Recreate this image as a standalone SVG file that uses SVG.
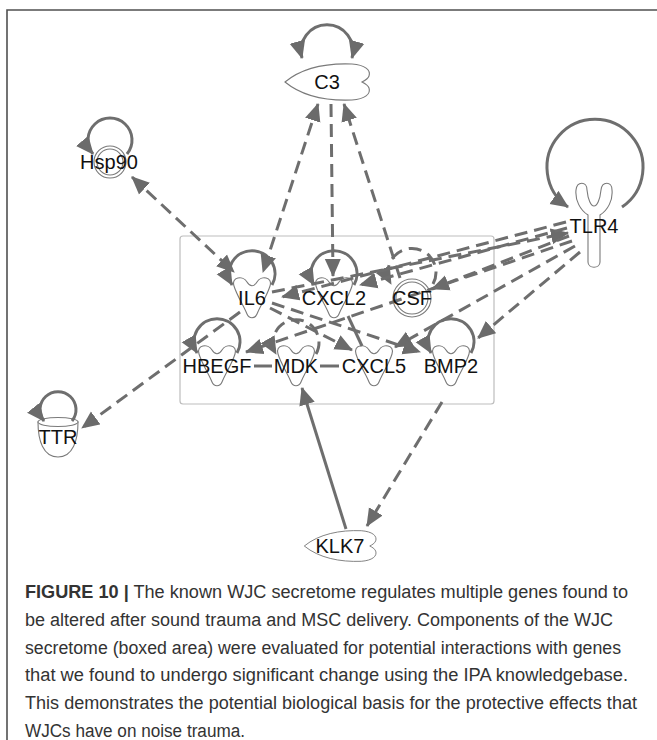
<svg xmlns="http://www.w3.org/2000/svg" width="657" height="740" viewBox="0 0 657 740">
<style>
.e{fill:none;stroke:#6e6e6e;stroke-width:3}
.d{stroke-dasharray:13 7}
.n{fill:#fff;stroke:#7a7a7a;stroke-width:1.1}
.t{font-family:"Liberation Sans",Arial,sans-serif;font-size:20px;fill:#111;text-anchor:middle}
.c{font-family:"Liberation Sans",Arial,sans-serif;font-size:18px;fill:#333}
</style>
<defs>
<marker id="ah" markerUnits="userSpaceOnUse" viewBox="0 0 19 17" markerWidth="19" markerHeight="17" refX="17" refY="8.5" orient="auto-start-reverse"><path d="M0,0.5 L18,8.5 L0,16.5 Z" fill="#6b6b6b"/></marker>
<path id="tooth" d="M-18,-12 C-21,-21 -9,-23 -5,-16 C-2,-11 2,-11 5,-16 C9,-23 21,-21 18,-12 C15,-2 8,8 5,16 C3,21 -3,21 -5,16 C-8,8 -15,-2 -18,-12 Z"/>
<path id="pep" d="M-42,0 C-25,-14 0,-19 25,-18 C38,-17 44,-12 42,-6 C41,-3 37,-1 35,0 C37,1 41,3 42,6 C44,12 38,17 25,18 C0,19 -25,14 -42,0 Z"/>
</defs>
<rect width="657" height="740" fill="#fff"/>
<path d="M7,740 L7,10 L657,10" fill="none" stroke="#505050" stroke-width="1.6"/>
<rect id="secretome-box" x="180" y="236" width="314" height="168" rx="3" fill="none" stroke="#bdbdbd" stroke-width="1.2"/>

<g id="node-C3"><use href="#pep" class="n" transform="translate(327,82)"/></g>
<g id="node-Hsp90"><circle class="n" cx="110" cy="162" r="16"/><circle class="n" cx="110" cy="162" r="13"/></g>
<g id="node-TLR4"><path class="n" d="M588,215 C580,210 575,200 576,190 C577,181 587,181 587,190 C588,200 591,206 594,206 C597,206 600,200 601,190 C602,181 612,181 612,190 C613,200 608,210 600,215 L600,262 C600,269 588,269 588,262 Z"/></g>
<g id="node-IL6"><use href="#tooth" class="n" transform="translate(252,298)"/></g>
<g id="node-CXCL2"><use href="#tooth" class="n" transform="translate(334,298)"/></g>
<g id="node-CSF"><circle class="n" cx="412" cy="298" r="19"/><circle class="n" cx="412" cy="298" r="16"/></g>
<g id="node-HBEGF"><use href="#tooth" class="n" transform="translate(217,366)"/></g>
<g id="node-MDK"><use href="#tooth" class="n" transform="translate(296,366)"/></g>
<g id="node-CXCL5"><use href="#tooth" class="n" transform="translate(374,366)"/></g>
<g id="node-BMP2"><use href="#tooth" class="n" transform="translate(451,366)"/></g>
<g id="node-TTR"><path class="n" d="M38,422 C38,440 43,457 58,457 C73,457 78,440 78,422 Z"/><ellipse class="n" cx="58" cy="422" rx="20" ry="4.5"/></g>
<g id="node-KLK7"><use href="#pep" class="n" transform="translate(340,546) scale(0.85,0.85)"/></g>

<g id="connectors">
<path class="e" d="M352,58 A26,26 0 1 0 302,58" marker-start="url(#ah)" marker-end="url(#ah)"/>
<path class="e" d="M127,154 A22,22 0 1 0 93,154" marker-end="url(#ah)"/>
<path class="e" d="M622,207 A48,48 0 1 0 568,207" marker-end="url(#ah)"/>
<path class="e" d="M72,421 A18,18 0 1 0 44,421" marker-end="url(#ah)"/>
<path class="e" d="M272,285 A23,23 0 1 0 232,285" marker-end="url(#ah)"/>
<path class="e" d="M354,285 A23,23 0 1 0 314,285" marker-end="url(#ah)"/>
<path class="e" d="M237,353 A23,23 0 1 0 197,353" marker-end="url(#ah)"/>
<path class="e" d="M471,353 A23,23 0 1 0 431,353" marker-end="url(#ah)"/>
<path class="e d" d="M316,354 A23,23 0 1 0 276,354" marker-end="url(#ah)"/>
<path class="e d" d="M433,284 A24,24 0 1 0 391,284" marker-end="url(#ah)"/>

<path class="e d" d="M318,104 L263,272" marker-start="url(#ah)" marker-end="url(#ah)"/>
<path class="e d" d="M331,104 L333,276" marker-end="url(#ah)"/>
<path class="e d" d="M400,278 L344,104" marker-end="url(#ah)"/>
<path class="e d" d="M132,177 L234,272" marker-start="url(#ah)" marker-end="url(#ah)"/>

<path class="e d" d="M272,292 L568,233" marker-end="url(#ah)"/>
<path class="e d" d="M566,222 L282,297" marker-end="url(#ah)"/>
<path class="e d" d="M567,228 L360,285" marker-end="url(#ah)"/>
<path class="e d" d="M569,236 L432,289" marker-end="url(#ah)"/>
<path class="e d" d="M572,241 L246,352" marker-end="url(#ah)"/>
<path class="e d" d="M575,246 L395,347" marker-end="url(#ah)"/>
<path class="e d" d="M580,252 L478,338" marker-end="url(#ah)"/>

<path class="e d" d="M240,312 L82,428" marker-end="url(#ah)"/>
<path class="e d" d="M270,308 L352,350" marker-end="url(#ah)"/>
<path class="e d" d="M272,303 L420,352" marker-end="url(#ah)"/>

<path class="e" d="M348,316 L362,346"/>
<path class="e" d="M254,366 L272,366"/>
<path class="e" d="M320,366 L339,366"/>

<path class="e" d="M346,529 L302,388" marker-end="url(#ah)"/>
<path class="e d" d="M442,402 L367,526" marker-end="url(#ah)"/>
</g>

<g id="labels">
<text class="t" x="327" y="89">C3</text>
<text class="t" x="109" y="169">Hsp90</text>
<text class="t" x="594" y="233">TLR4</text>
<text class="t" x="252" y="305">IL6</text>
<text class="t" x="334" y="305">CXCL2</text>
<text class="t" x="412" y="305">CSF</text>
<text class="t" x="217" y="373">HBEGF</text>
<text class="t" x="296" y="373">MDK</text>
<text class="t" x="374" y="373">CXCL5</text>
<text class="t" x="451" y="373">BMP2</text>
<text class="t" x="58" y="444">TTR</text>
<text class="t" x="340" y="553">KLK7</text>
</g>

<g id="caption">
<text class="c" x="25" y="598" textLength="603" lengthAdjust="spacingAndGlyphs"><tspan font-weight="bold">FIGURE 10 |</tspan> The known WJC secretome regulates multiple genes found to</text>
<text class="c" x="25" y="626" textLength="588" lengthAdjust="spacingAndGlyphs">be altered after sound trauma and MSC delivery. Components of the WJC</text>
<text class="c" x="25" y="654" textLength="596" lengthAdjust="spacingAndGlyphs">secretome (boxed area) were evaluated for potential interactions with genes</text>
<text class="c" x="25" y="681" textLength="603" lengthAdjust="spacingAndGlyphs">that we found to undergo significant change using the IPA knowledgebase.</text>
<text class="c" x="25" y="709" textLength="612" lengthAdjust="spacingAndGlyphs">This demonstrates the potential biological basis for the protective effects that</text>
<text class="c" x="25" y="737" textLength="220" lengthAdjust="spacingAndGlyphs">WJCs have on noise trauma.</text>
</g>
</svg>
